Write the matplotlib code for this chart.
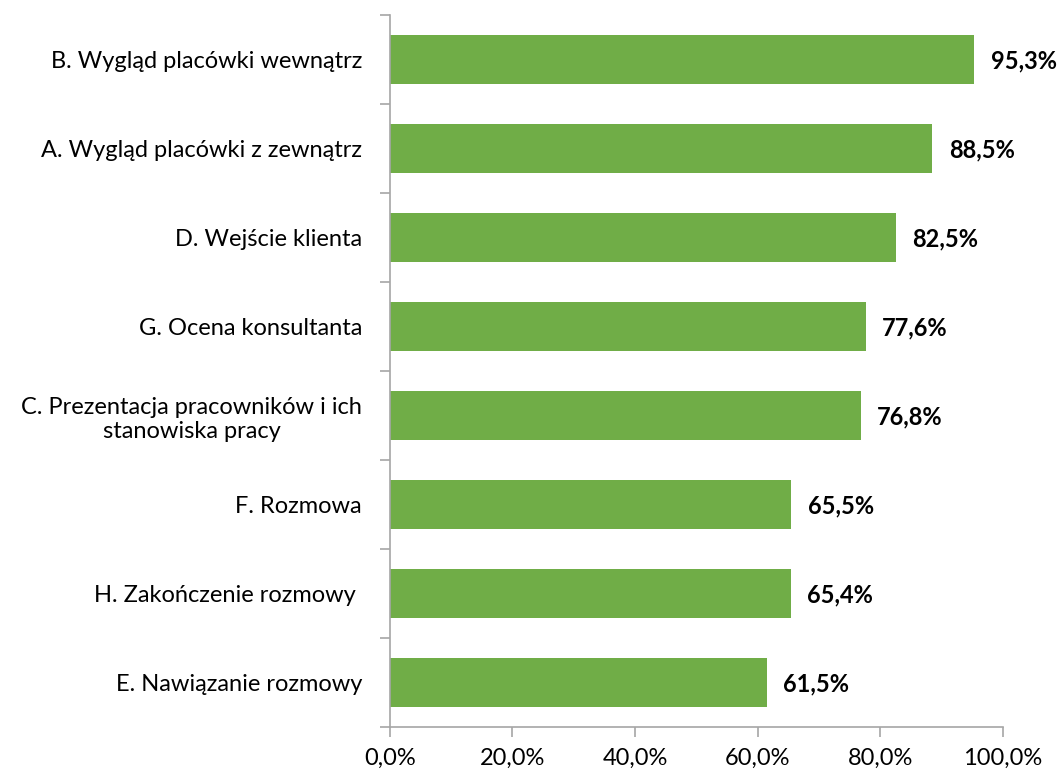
import matplotlib.pyplot as plt
import numpy as np

# Data (top to bottom as shown)
categories = ['B. Wygląd placówki wewnątrz',
              'A. Wygląd placówki z zewnątrz',
              'D. Wejście klienta',
              'G. Ocena konsultanta',
              'C. Prezentacja pracowników i ich\nstanowiska pracy',
              'F. Rozmowa',
              'H. Zakończenie rozmowy ',
              'E. Nawiązanie rozmowy']
values = [95.3, 88.5, 82.5, 77.6, 76.8, 65.5, 65.4, 61.5]
xticks = [0, 20, 40, 60, 80, 100]

plt.rcParams['font.family'] = ['Lato', 'DejaVu Sans']

fig = plt.figure(figsize=(10.59, 7.71), dpi=100)
ax = fig.add_axes([0.368, 0.057, 0.579, 0.9235])

n = len(categories)
y = np.arange(n)[::-1]
ax.barh(y, values, height=0.56, color='#70AD47')

for yi, v in zip(y, values):
    ax.annotate(f'{v:.1f}%'.replace('.', ','), xy=(v, yi), xytext=(12, -1),
                textcoords='offset points', va='center', ha='left',
                fontsize=17, fontweight='bold', color='black')

ax.set_xlim(0, 100)
ax.set_ylim(-0.5, n - 0.5)
ax.set_xticks(xticks)
ax.set_xticklabels([f'{t:.1f}%'.replace('.', ',') for t in xticks], fontsize=17)

# category boundaries as major ticks, labels on minor ticks
ax.set_yticks(np.arange(-0.5, n, 1))
ax.set_yticklabels([])
ax.set_yticks(y, minor=True)
ax.set_yticklabels(categories, minor=True, fontsize=17, multialignment='center')
ax.tick_params(axis='y', which='minor', length=0, pad=20)
ax.tick_params(axis='y', which='major', length=7, color='#a6a6a6', width=1.2)
ax.tick_params(axis='x', length=7, color='#a6a6a6', width=1.2, pad=8)

for side in ['top', 'right']:
    ax.spines[side].set_visible(False)
for side in ['left', 'bottom']:
    ax.spines[side].set_color('#a6a6a6')
    ax.spines[side].set_linewidth(1.2)

fig.savefig('out.png', dpi=100)
